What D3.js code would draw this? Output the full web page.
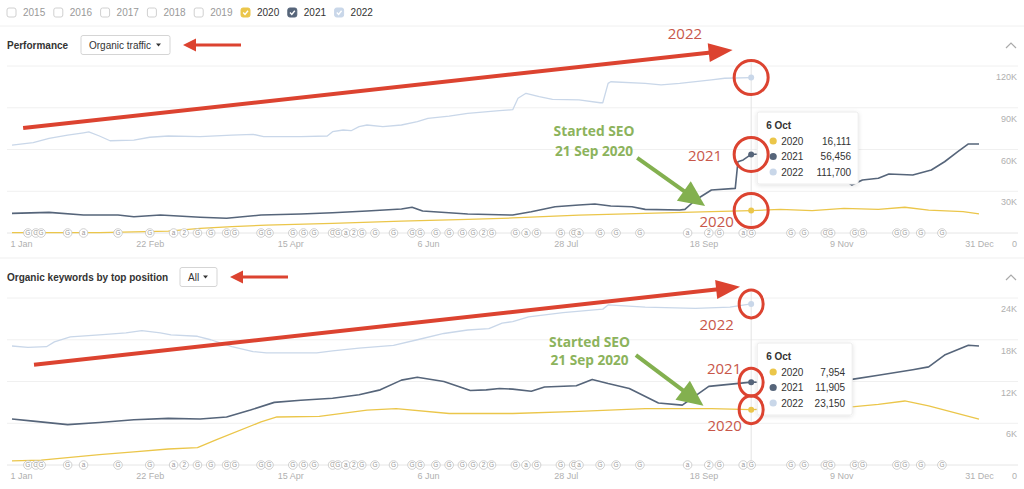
<!DOCTYPE html>
<html>
<head>
<meta charset="utf-8">
<script src="https://cdn.jsdelivr.net/npm/d3@7"></script>
<style>
  body { margin: 0; background: #fff; }
  svg { display: block; font-family: "Liberation Sans", Arial, sans-serif; }
</style>
</head>
<body>
<svg id="chart" width="1024" height="489"></svg>
<script>
"use strict";

// ---- data ----
const years = ["2015", "2016", "2017", "2018", "2019", "2020", "2021", "2022"];
const yearChecked = [false, false, false, false, false, true, true, true];
const shownYears = ["2020", "2021", "2022"];
const yearColors = { "2020": "#ebc64a", "2021": "#56657a", "2022": "#c9d7e9" };

const tickDays = [0, 52, 105, 157, 209, 261, 313, 365];
const tickLabels = ["1 Jan", "22 Feb", "15 Apr", "6 Jun", "28 Jul", "18 Sep", "9 Nov", "31 Dec"];

const trafficTicks = [0, 30, 60, 90, 120];   // thousands
const keywordTicks = [0, 6, 12, 18, 24];     // thousands

// [day of year, value in thousands]
const traffic2020 = [[0, 0.3], [33, 0.3], [59, 1.4], [71, 3.3], [83, 4.6], [96, 5.7], [121, 6.9], [147, 8.6],
  [172, 9.8], [189, 10.8], [214, 12.9], [239, 14.1], [264, 15.3], [279, 16.111], [290, 17], [302, 16.1],
  [314, 17.7], [327, 17], [337, 18.5], [346, 16.5], [359, 15.3], [365, 13.7]];
const traffic2021 = [[0, 14.1], [14, 14.8], [27, 12.9], [40, 12.9], [46, 11.7], [56, 12.9], [71, 11.3], [81, 10.6],
  [94, 12.9], [109, 13.7], [121, 14.6], [134, 15.8], [147, 17.2], [151, 18.5], [155, 15.8], [172, 13.7],
  [189, 12.9], [196, 15.3], [205, 18.9], [214, 20.1], [220, 20.8], [226, 19.4], [234, 18.9], [239, 17],
  [252, 16.5], [254, 17], [258, 23.7], [264, 30.9], [273, 32.1], [274, 51.2], [276, 52.5], [279, 56.456],
  [282, 56.8], [290, 55], [300, 50], [310, 44], [317, 34.5], [321, 38.1], [327, 39.3], [331, 42.4],
  [340, 41.7], [347, 45.3], [352, 51.2], [357, 58.4], [361, 64], [365, 64]];
const traffic2022 = [[0, 63.2], [8, 64.9], [14, 68], [21, 70.4], [27, 72], [29, 72.6], [33, 69.7], [37, 66.3],
  [46, 66.8], [52, 68.8], [59, 69.7], [71, 69.2], [83, 70.4], [91, 70.9], [95, 69.2], [109, 69.2],
  [119, 69.7], [121, 72.8], [125, 74], [128, 73.5], [131, 76.4], [134, 77.6], [140, 76.4], [147, 77.6],
  [153, 80], [157, 82.4], [165, 84], [172, 86], [184, 87.9], [189, 88.6], [191, 96.8], [194, 100.4],
  [199, 98], [204, 96], [214, 95.6], [222, 93.6], [223, 93.6], [225, 107.5], [226, 108.7], [239, 107.5],
  [245, 106.4], [252, 107.5], [264, 110], [269, 111.2], [279, 111.7]];

const keywords2020 = [[0, 0.6], [11, 0.7], [33, 1.5], [46, 1.9], [59, 2.3], [70, 2.5], [77, 3.6], [94, 6.2],
  [100, 6.9], [116, 7], [134, 7.9], [145, 8.1], [165, 7.4], [189, 7.4], [214, 7.7], [239, 8.1], [264, 8.1],
  [279, 7.954], [300, 8.2], [318, 8.4], [327, 8.7], [337, 9.2], [346, 8.5], [365, 6.6]];
const keywords2021 = [[0, 6.6], [8, 6.3], [21, 5.8], [33, 6.1], [46, 6.5], [59, 6.7], [71, 6.6], [81, 6.9],
  [90, 7.9], [99, 9], [109, 9.3], [121, 9.6], [131, 10.1], [139, 10.8], [147, 12.2], [153, 12.6], [163, 12],
  [173, 10.7], [179, 10.8], [184, 11], [189, 10.9], [196, 10.6], [201, 11.2], [213, 11.4], [219, 12.3],
  [225, 11.7], [233, 11], [244, 8.9], [253, 8.6], [263, 11.3], [279, 11.905], [282, 11.9], [300, 12.1],
  [317, 12.3], [327, 12.9], [340, 13.7], [346, 14.1], [352, 15.8], [361, 17.2], [365, 17.1]];
const keywords2022 = [[0, 17.1], [6, 16.9], [13, 17], [16, 17.7], [22, 18.4], [33, 18.7], [43, 19], [49, 19.3],
  [56, 19], [60, 18.7], [70, 18.5], [75, 18], [83, 17], [91, 16.3], [96, 16.1], [115, 16.1], [121, 16.4],
  [131, 16.8], [144, 17.2], [153, 18], [163, 18.9], [172, 19.4], [180, 19.6], [185, 20.4], [189, 20.6],
  [195, 21.3], [208, 21.9], [223, 22.4], [225, 23], [239, 22.7], [258, 22.5], [271, 22.7], [279, 23.15]];

const hoverDay = 279;
const hoverLabel = "6 Oct";
const trafficTooltip = [16111, 56456, 111700];
const keywordTooltip = [7954, 11905, 23150];

const markerDays = [6, 9, 11, 21, 27, 40, 52, 61, 65, 70, 75, 81, 84, 94, 97, 106, 110, 114, 121, 123, 126, 129,
  132, 137, 144, 151, 154, 160, 165, 170, 174, 178, 181, 190, 194, 198, 207, 212, 214, 222, 228, 237, 255,
  263, 267, 276, 279, 294, 299, 307, 309, 318, 321, 334, 337, 343, 351];
const markerLetters = ["G", "G", "G", "G", "a", "G", "G", "a", "2", "G", "G", "G", "G", "G", "G", "G", "G", "G",
  "G", "G", "a", "2", "G", "G", "G", "G", "G", "G", "G", "G", "G", "2", "G", "G", "a", "G", "G", "G", "a",
  "G", "G", "G", "a", "2", "G", "a", "G", "G", "G", "G", "G", "G", "G", "G", "G", "G", "G"];

// annotations in data space: [day, thousands]
const trafficNotes = {
  arrow: [[4.2, 75.4], [272, 131.5]],
  green: [[236, 53.9], [261.6, 19.4]],
  greenText: [219.7, 74, 59.6],
  labels: { "2022": [254, 143.7], "2021": [261.6, 56], "2020": [266, 8.6] },
  ring: [17, 17]
};
const keywordNotes = {
  arrow: [[8.3, 14.4], [274.8, 25.6]],
  green: [[235.5, 15.8], [261, 8.5]],
  greenText: [218, 17.8, 15.2],
  labels: { "2022": [266, 20.3], "2021": [268.8, 13.9], "2020": [269, 5.7] },
  ring: [12, 14]
};

// ---- drawing ----
const RED = "#dc4330";
const RED_TEXT = "#c8574a";
const GREEN = "#83b04f";
const GREEN_TEXT = "#8cb35c";
const AXIS_TEXT = "#b0b0b0";

const svg = d3.select("#chart");
svg.append("rect").attr("width", 1024).attr("height", 489).attr("fill", "#fff");

const defs = svg.append("defs");
defs.append("filter").attr("id", "tipShadow").attr("x", "-20%").attr("y", "-20%")
  .attr("width", "140%").attr("height", "140%")
  .append("feDropShadow").attr("dx", 0).attr("dy", 1).attr("stdDeviation", 2)
  .attr("flood-color", "#000").attr("flood-opacity", 0.12);

const x = d3.scaleLinear().domain([0, 365]).range([12, 979]);

function drawArrow(g, p1, p2, color, width, headLen, headWidth) {
  const dx = p2[0] - p1[0], dy = p2[1] - p1[1];
  const len = Math.hypot(dx, dy), ux = dx / len, uy = dy / len;
  const bx = p2[0] - ux * headLen, by = p2[1] - uy * headLen;
  g.append("line")
    .attr("x1", p1[0]).attr("y1", p1[1])
    .attr("x2", bx + ux * 2).attr("y2", by + uy * 2)
    .attr("stroke", color).attr("stroke-width", width);
  g.append("polygon")
    .attr("points", [[p2[0], p2[1]],
      [bx - uy * headWidth / 2, by + ux * headWidth / 2],
      [bx + uy * headWidth / 2, by - ux * headWidth / 2]].map(p => p.join(",")).join(" "))
    .attr("fill", color);
}

// year checkboxes
const legend = svg.append("g");
years.forEach((yr, i) => {
  const gx = 7 + i * 46.8;
  const g = legend.append("g").attr("transform", `translate(${gx},8)`);
  const col = yearColors[yr];
  g.append("rect").attr("width", 9).attr("height", 9).attr("rx", 2)
    .attr("fill", yearChecked[i] ? col : "#fff")
    .attr("stroke", yearChecked[i] ? col : "#d0d0d0");
  if (yearChecked[i]) {
    g.append("path").attr("d", "M2.2,4.6 L4,6.4 L7,2.8")
      .attr("fill", "none").attr("stroke", "#fff").attr("stroke-width", 1.4);
  }
  g.append("text").attr("x", 16).attr("y", 8.3).attr("font-size", 10)
    .attr("fill", yearChecked[i] ? "#333" : "#999").text(yr);
});
svg.append("line").attr("x1", 0).attr("x2", 1024).attr("y1", 26).attr("y2", 26).attr("stroke", "#f0f0f0");
svg.append("line").attr("x1", 0).attr("x2", 1024).attr("y1", 258).attr("y2", 258).attr("stroke", "#efefef");

function drawHeader(title, option, y, boxX, boxW) {
  const g = svg.append("g");
  g.append("text").attr("x", 7).attr("y", y + 3.5).attr("font-size", 10).attr("font-weight", "bold")
    .attr("fill", "#333").text(title);
  g.append("rect").attr("x", boxX).attr("y", y - 9.5).attr("width", boxW).attr("height", 19).attr("rx", 2)
    .attr("fill", "#fff").attr("stroke", "#d5d5d5");
  g.append("text").attr("x", boxX + 8).attr("y", y + 3.5).attr("font-size", 10).attr("fill", "#333").text(option);
  g.append("path").attr("d", `M${boxX + boxW - 14},${y - 1.5} h5 l-2.5,3 z`).attr("fill", "#333");
  g.append("path").attr("d", `M1006,${y + 3} l5,-5 l5,5`).attr("fill", "none")
    .attr("stroke", "#aaa").attr("stroke-width", 1.2);
  drawArrow(g, [boxX + boxW + 71, y], [boxX + boxW + 13, y], RED, 3, 13, 13);
}

drawHeader("Performance", "Organic traffic", 45, 81, 89);
drawHeader("Organic keywords by top position", "All", 277, 180, 37);

function drawPanel(cfg) {
  const y = d3.scaleLinear().domain([0, d3.max(cfg.ticks)]).range([cfg.bottom, cfg.top]);
  const g = svg.append("g");
  const P = (d) => [x(d[0]), y(d[1])];

  // gridlines + right labels
  g.append("g").selectAll("line").data(cfg.ticks).join("line")
    .attr("x1", 7).attr("x2", 1018)
    .attr("y1", d => y(d)).attr("y2", d => y(d))
    .attr("stroke", d => d === 0 ? "#e6e6e6" : "#f0f0f0");
  g.append("g").selectAll("text").data(cfg.ticks).join("text")
    .attr("x", 1017).attr("y", d => y(d) + 14)
    .attr("text-anchor", "end").attr("font-size", 9).attr("fill", AXIS_TEXT)
    .text(d => d === 0 ? "0" : d + "K");

  // x axis
  const xAxis = g.append("g").attr("transform", `translate(0,${cfg.bottom})`)
    .call(d3.axisBottom(x).tickValues(tickDays).tickSize(0).tickFormat((d, i) => tickLabels[i]));
  xAxis.select(".domain").remove();
  xAxis.selectAll("text").attr("dy", 0).attr("y", 14).attr("font-size", 9)
    .attr("fill", AXIS_TEXT).attr("font-family", "Liberation Sans, Arial, sans-serif")
    .attr("text-anchor", (d, i) => i === 0 ? "start" : "middle")
    .attr("dx", (d, i) => i === 0 ? -2 : 0);

  // hover line
  g.append("line").attr("x1", x(hoverDay)).attr("x2", x(hoverDay))
    .attr("y1", cfg.top - 6).attr("y2", cfg.bottom)
    .attr("stroke", "#e3e3e3");

  // series
  const line = d3.line().x(d => x(d[0])).y(d => y(d[1]));
  const widths = [1.3, 1.6, 1.3];
  [2, 1, 0].forEach(i => {
    g.append("path").datum(cfg.series[i]).attr("d", line)
      .attr("fill", "none").attr("stroke", yearColors[shownYears[i]])
      .attr("stroke-width", widths[i]).attr("stroke-linejoin", "round");
  });

  // event markers on baseline
  const mk = g.append("g").selectAll("g").data(markerDays).join("g")
    .attr("transform", d => `translate(${x(d)},${cfg.bottom})`);
  mk.append("circle").attr("r", 4.3).attr("fill", "#fff").attr("stroke", "#c4c4c4").attr("stroke-width", 0.8);
  mk.append("text").attr("text-anchor", "middle").attr("y", 2.4).attr("font-size", 6.5)
    .attr("fill", "#999").text((d, i) => markerLetters[i]);

  // hover dots
  shownYears.forEach((yr, i) => {
    g.append("circle").attr("cx", x(hoverDay)).attr("cy", y(cfg.tip[i] / 1000)).attr("r", 3)
      .attr("fill", yearColors[yr]);
  });

  // tooltip
  const tg = g.append("g").attr("transform", `translate(${x(hoverDay) + 6},${cfg.top + cfg.tipTop})`);
  tg.append("rect").attr("width", cfg.tipWidth).attr("height", 72).attr("rx", 2)
    .attr("fill", "#fff").attr("stroke", "#ececec").attr("filter", "url(#tipShadow)");
  tg.append("text").attr("x", 9).attr("y", 17).attr("font-size", 10).attr("font-weight", "bold")
    .attr("fill", "#333").text(hoverLabel);
  shownYears.forEach((yr, i) => {
    const cy = 29 + i * 15.5;
    tg.append("circle").attr("cx", 16).attr("cy", cy).attr("r", 3.6).attr("fill", yearColors[yr]);
    tg.append("text").attr("x", 24).attr("y", cy + 3.5).attr("font-size", 10).attr("fill", "#333").text(yr);
    tg.append("text").attr("x", cfg.tipWidth - 7).attr("y", cy + 3.5).attr("text-anchor", "end")
      .attr("font-size", 10).attr("fill", "#333").text(d3.format(",")(cfg.tip[i]));
  });

  // annotations
  const an = svg.append("g");
  const n = cfg.notes;
  drawArrow(an, P(n.arrow[0]), P(n.arrow[1]), RED, 4, 24, 19);
  drawArrow(an, P(n.green[0]), P(n.green[1]), GREEN, 4, 26, 24);
  [["Started SEO", n.greenText[1], 81], ["21 Sep 2020", n.greenText[2], 78]].forEach(t => {
    an.append("text").attr("x", x(n.greenText[0])).attr("y", y(t[1]))
      .attr("text-anchor", "middle").attr("dominant-baseline", "central")
      .attr("font-family", "Open Sans, sans-serif").attr("font-weight", "bold").attr("font-size", 15)
      .attr("textLength", t[2]).attr("lengthAdjust", "spacingAndGlyphs")
      .attr("fill", GREEN_TEXT).text(t[0]);
  });
  shownYears.forEach((yr, i) => {
    const p = n.labels[yr];
    an.append("text").attr("x", x(p[0])).attr("y", y(p[1]))
      .attr("text-anchor", "middle").attr("dominant-baseline", "central")
      .attr("font-family", "Open Sans, sans-serif").attr("font-size", 15)
      .attr("fill", RED_TEXT).text(yr);
    an.append("ellipse").attr("cx", x(hoverDay)).attr("cy", y(cfg.tip[i] / 1000))
      .attr("rx", n.ring[0]).attr("ry", n.ring[1])
      .attr("fill", "none").attr("stroke", RED).attr("stroke-width", 3);
  });
}

drawPanel({ top: 66, bottom: 233, ticks: trafficTicks, series: [traffic2020, traffic2021, traffic2022],
  tip: trafficTooltip, tipWidth: 101, tipTop: 46, notes: trafficNotes });
drawPanel({ top: 298, bottom: 465, ticks: keywordTicks, series: [keywords2020, keywords2021, keywords2022],
  tip: keywordTooltip, tipWidth: 95, tipTop: 45, notes: keywordNotes });
</script>
</body>
</html>
